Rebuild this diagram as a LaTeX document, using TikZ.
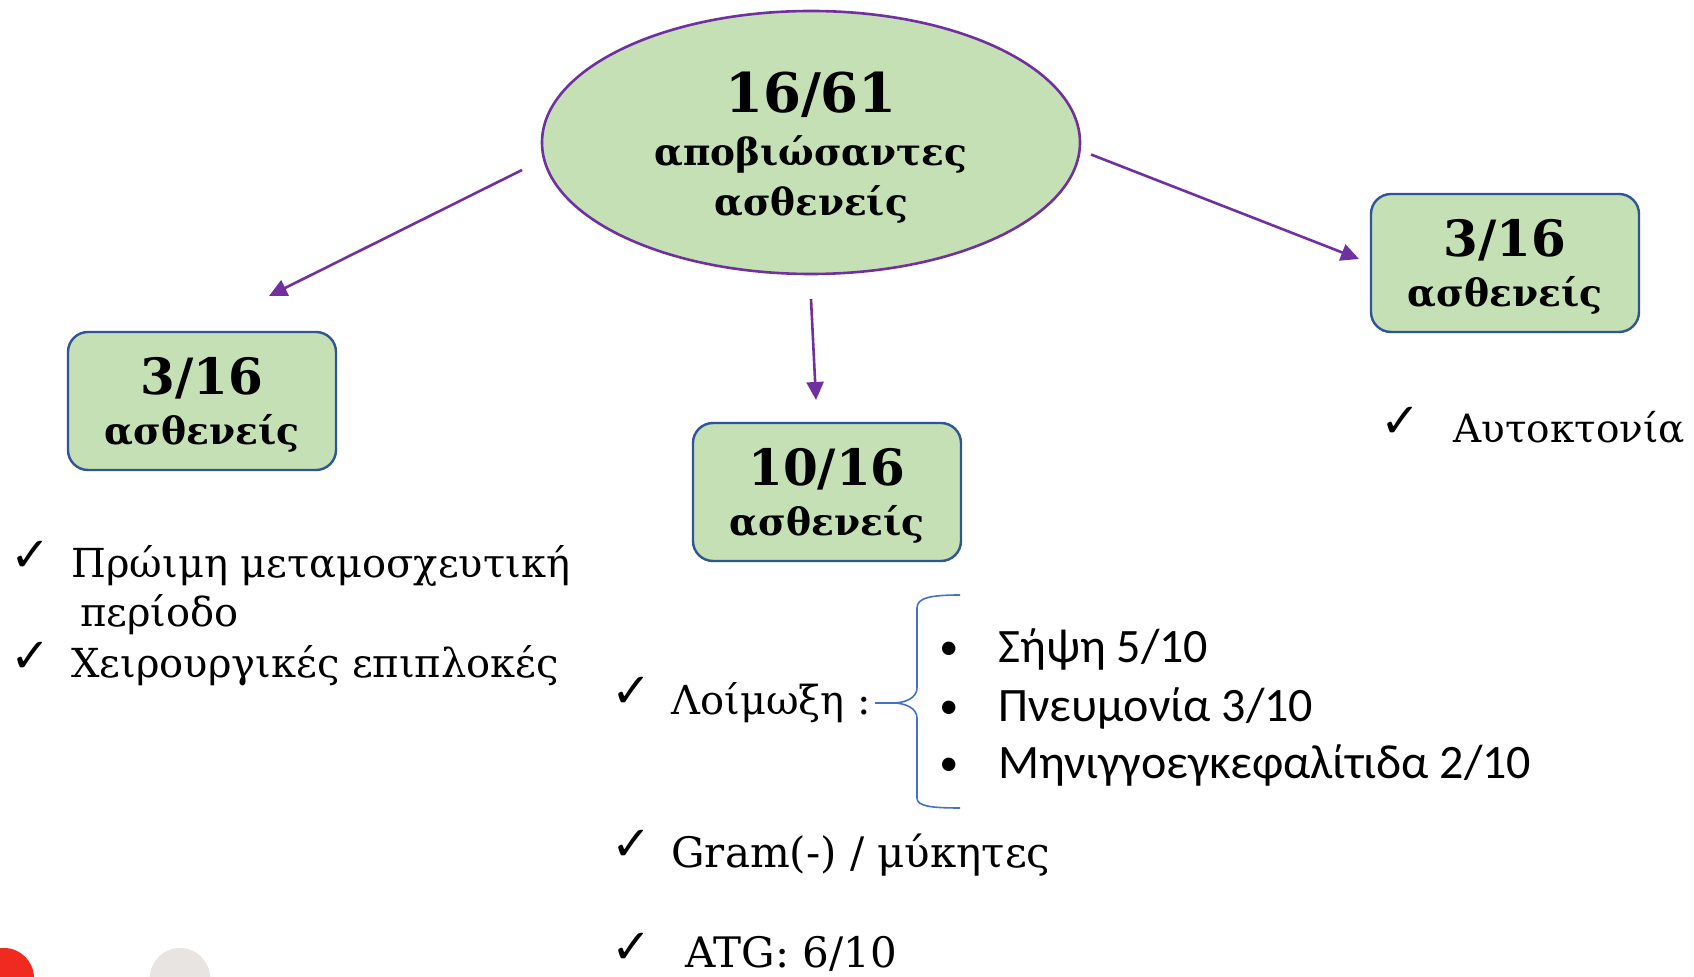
\documentclass[tikz,border=0pt]{standalone}
\usepackage{fontspec}
\setmainfont{DejaVu Serif}
\newfontfamily\calib{Carlito}
\newfontfamily\symf{DejaVu Sans}
\usetikzlibrary{arrows.meta,shapes.geometric}
\definecolor{boxfill}{HTML}{C5E0B4}
\definecolor{purp}{HTML}{7030A0}
\definecolor{boxline}{HTML}{2F5597}
\definecolor{bracec}{HTML}{4472C4}
\definecolor{redc}{HTML}{F02A1E}
\definecolor{grayc}{HTML}{E7E4E1}
\tikzset{
  greenbox/.style={rectangle, rounded corners=10pt, draw=boxline, fill=boxfill, line width=1.2pt,
    minimum width=134pt, minimum height=69pt, inner sep=0pt, align=center,
    font=\bfseries\fontsize{18.8pt}{25pt}\selectfont},
  arr/.style={draw=purp, line width=1.3pt, -{Triangle[length=9pt,width=8.5pt]}},
  txt/.style={anchor=base west, inner sep=0pt, font=\fontsize{20pt}{24pt}\selectfont},
  sanstxt/.style={anchor=base west, inner sep=0pt, font=\calib\fontsize{24pt}{28pt}\selectfont},
  chk/.style={anchor=base west, inner sep=0pt, font=\symf\fontsize{24pt}{28pt}\selectfont},
  bul/.style={anchor=base west, inner sep=0pt, font=\calib\fontsize{19pt}{22pt}\selectfont},
}
\newcommand{\bnum}[1]{{\fontsize{25pt}{30pt}\selectfont\rule{0pt}{22pt}#1}}
\begin{document}
\begin{tikzpicture}[x=0.5pt,y=-0.5pt]
\useasboundingbox (0,0) rectangle (1694,977);
% decorative circles
\fill[redc] (4,978) circle[radius=30];
\fill[grayc] (180,978) circle[radius=30];
% top ellipse
\node[ellipse, draw=purp, fill=boxfill, line width=1.3pt, minimum width=269pt, minimum height=131.5pt,
  inner sep=0pt, align=center, font=\bfseries\fontsize{18.7pt}{25pt}\selectfont] (top) at (811,142.5)
  {{\fontsize{27.3pt}{30pt}\selectfont\rule{0pt}{25.5pt}16/61}\\[1.5pt]αποβιώσαντες\\ασθενείς};
% boxes
\node[greenbox] (lbox) at (202,401) {\bnum{3/16}\\ασθενείς};
\node[greenbox] (mbox) at (827,492) {\bnum{10/16}\\ασθενείς};
\node[greenbox] (rbox) at (1505,263) {\bnum{3/16}\\ασθενείς};
% arrows (free ends)
\coordinate (aLs) at (522,170); \coordinate (aLe) at (269,296);
\coordinate (aMs) at (811,299); \coordinate (aMe) at (816,400);
\coordinate (aRs) at (1091,154.5); \coordinate (aRe) at (1359,259);
\draw[arr] (aLs) -- (aLe);
\draw[arr] (aMs) -- (aMe);
\draw[arr] (aRs) -- (aRe);
% left list
\node[chk] (c1) at (10,572) {✓};
\node[txt] (t1) at (71,578) {Πρώιμη μεταμοσχευτική};
\node[txt] (t2) at (80,627) {περίοδο};
\node[chk] (c2) at (10,673) {✓};
\node[txt] (t3) at (71,678) {Χειρουργικές επιπλοκές};
% right list
\node[chk] (c3) at (1380,438) {✓};
\node[txt, font=\fontsize{19.5pt}{24pt}\selectfont] (t4) at (1453,443) {Αυτοκτονία};
% middle list
\node[chk] (c4) at (611,708) {✓};
\node[txt] (t5) at (671,715) {Λοίμωξη :};
\node[chk] (c5) at (611,861) {✓};
\node[txt, font=\fontsize{21pt}{25pt}\selectfont] (t6) at (671,868) {Gram(-) / μύκητες};
\node[chk] (c6) at (611,964) {✓};
\node[txt, font=\fontsize{21pt}{25pt}\selectfont] (t7) at (685,968) {ATG: 6/10};
% brace
\draw[bracec, line width=0.8pt] (960,595) .. controls (930,595) and (917,598) .. (917,608) -- (917,688)
  .. controls (917,698) and (905,703) .. (893,703) -- (875,703);
\draw[bracec, line width=0.8pt] (893,703) .. controls (905,703) and (917,708) .. (917,718) -- (917,798)
  .. controls (917,806) and (930,808) .. (960,808);
% bullets
\node[bul] (b1) at (939,660) {•};
\node[sanstxt] (s1) at (998,663) {Σήψη 5/10};
\node[bul] (b2) at (939,719) {•};
\node[sanstxt] (s2) at (998,722) {Πνευμονία 3/10};
\node[bul] (b3) at (939,776) {•};
\node[sanstxt] (s3) at (998,779) {Μηνιγγοεγκεφαλίτιδα 2/10};
\end{tikzpicture}
\end{document}
